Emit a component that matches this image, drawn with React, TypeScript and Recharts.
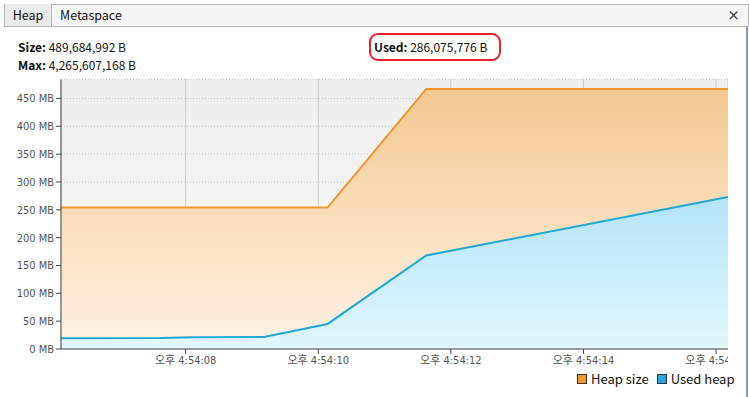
import { AreaChart, Area, XAxis, YAxis, CartesianGrid } from "recharts";

// time in seconds after 4:54:00
const heapTimes = [6.12, 10.14, 11.63, 16.18];
const heapSizeMB = [254, 254, 467, 467];

const usedTimes = [6.12, 7.62, 8.1, 9.18, 10.14, 11.63, 16.18];
const usedHeapMB = [19.5, 19.6, 21.3, 21.5, 45, 168, 272.8];

const yTicks = [0, 50, 100, 150, 200, 250, 300, 350, 400, 450];
const xTicks = [8, 10, 12, 14, 16];

const sizeText = "489,684,992 B";
const maxText = "4,265,607,168 B";
const usedText = "286,075,776 B";

const font = "'Noto Sans CJK KR', 'Noto Sans', sans-serif";
const tickFont = "'DejaVu Sans Condensed', 'Noto Sans CJK KR', sans-serif";

// merge both series on a common time axis
const allTimes = Array.from(new Set([...heapTimes, ...usedTimes])).sort((a, b) => a - b);
const chartData = allTimes.map((t) => {
  const hi = heapTimes.indexOf(t);
  const ui = usedTimes.indexOf(t);
  return {
    t,
    heap: hi >= 0 ? heapSizeMB[hi] : undefined,
    used: ui >= 0 ? usedHeapMB[ui] : undefined,
  };
});

const fmtTime = (s: number) => `오후 4:54:${String(s).padStart(2, "0")}`;

export default function App() {
  return (
    <div
      style={{
        position: "absolute",
        left: 0,
        top: 0,
        width: 749,
        height: 397,
        background: "#fff",
        fontFamily: font,
        overflow: "hidden",
      }}
    >
      {/* tab bar */}
      <div
        style={{
          position: "absolute",
          left: 4,
          top: 4,
          width: 743,
          height: 21,
          background: "#f5f5f5",
          border: "1px solid #b5b5b5",
        }}
      />
      <div
        style={{
          position: "absolute",
          left: 4,
          top: 4,
          width: 46,
          height: 22,
          background: "#ebebeb",
          borderRight: "1px solid #b5b5b5",
          borderLeft: "1px solid #b5b5b5",
          fontSize: 12.5,
          lineHeight: "22px",
          textAlign: "center",
          color: "#111",
        }}
      >
        Heap
      </div>
      <div style={{ position: "absolute", left: 60, top: 4, fontSize: 12.5, lineHeight: "22px", color: "#111" }}>
        Metaspace
      </div>
      <div style={{ position: "absolute", left: 727, top: 4, fontSize: 13, lineHeight: "22px", color: "#444", fontWeight: 700 }}>
        ×
      </div>
      <div style={{ position: "absolute", left: 746, top: 27, width: 2, height: 370, background: "#7f9db9" }} />

      {/* header */}
      <div style={{ position: "absolute", left: 18, top: 38, fontSize: 12, color: "#111", lineHeight: "18px" }}>
        <div>
          <b>Size:</b> {sizeText}
        </div>
        <div>
          <b>Max:</b> {maxText}
        </div>
      </div>
      <div style={{ position: "absolute", left: 374, top: 38, fontSize: 12, color: "#111", lineHeight: "18px" }}>
        <b>Used:</b> {usedText}
      </div>
      <div
        style={{
          position: "absolute",
          left: 369,
          top: 33,
          width: 128,
          height: 24,
          border: "2px solid #e8202a",
          borderRadius: 9,
        }}
      />

      <div style={{ position: "absolute", left: 0, top: 0, width: 728, height: 397, overflow: "hidden" }}>
        <AreaChart
          width={749}
          height={397}
          data={chartData}
          margin={{ top: 79.5, right: 21, bottom: 18, left: 0 }}
        >
          <defs>
            <linearGradient id="bgGrad" x1="0" y1="0" x2="0" y2="1">
              <stop offset="0%" stopColor="#eeeeee" />
              <stop offset="100%" stopColor="#fafafa" />
            </linearGradient>
            <linearGradient id="heapGrad" x1="0" y1="0" x2="0" y2="1">
              <stop offset="0%" stopColor="#f4c88f" />
              <stop offset="100%" stopColor="#fef3e6" />
            </linearGradient>
            <linearGradient id="usedGrad" x1="0" y1="0" x2="0" y2="1">
              <stop offset="0%" stopColor="#b3e4f7" />
              <stop offset="100%" stopColor="#e2f7fd" />
            </linearGradient>
          </defs>
          <CartesianGrid
            vertical={false}
            stroke="#bdbdbd"
            strokeDasharray="1 2"
            fill="url(#bgGrad)"
            fillOpacity={1}
          />
          <XAxis
            dataKey="t"
            type="number"
            domain={[6.12, 16.18]}
            ticks={xTicks}
            tickFormatter={fmtTime}
            allowDataOverflow
            height={30}
            tickSize={5}
            stroke="#444"
            tick={{ fill: "#555", fontSize: 11, fontFamily: tickFont }}
          />
          <YAxis
            domain={[0, 484]}
            ticks={yTicks}
            tickFormatter={(v: number) => `${v} MB`}
            allowDataOverflow
            width={61}
            tickSize={5}
            stroke="#444"
            tick={{ fill: "#555", fontSize: 11, fontFamily: tickFont }}
          />
          <Area
            type="linear"
            dataKey="heap"
            connectNulls
            stroke="#f0962a"
            strokeWidth={2}
            fill="url(#heapGrad)"
            fillOpacity={1}
            isAnimationActive={false}
            dot={false}
            activeDot={false}
          />
          <Area
            type="linear"
            dataKey="used"
            connectNulls
            stroke="#1fa8d8"
            strokeWidth={2}
            fill="url(#usedGrad)"
            fillOpacity={1}
            isAnimationActive={false}
            dot={false}
            activeDot={false}
          />
          <CartesianGrid horizontal={false} stroke="#b0b0b0" strokeOpacity={0.6} fill="none" />
        </AreaChart>
      </div>

      {/* legend */}
      <div
        style={{
          position: "absolute",
          left: 577,
          top: 371,
          display: "flex",
          alignItems: "center",
          fontSize: 13,
          color: "#111",
          lineHeight: "16px",
        }}
      >
        <span style={{ width: 8, height: 8, background: "#f39a2a", border: "1px solid #333", marginRight: 4 }} />
        <span style={{ marginRight: 8 }}>Heap size</span>
        <span style={{ width: 8, height: 8, background: "#22a7d8", border: "1px solid #333", marginRight: 4 }} />
        <span>Used heap</span>
      </div>
    </div>
  );
}
